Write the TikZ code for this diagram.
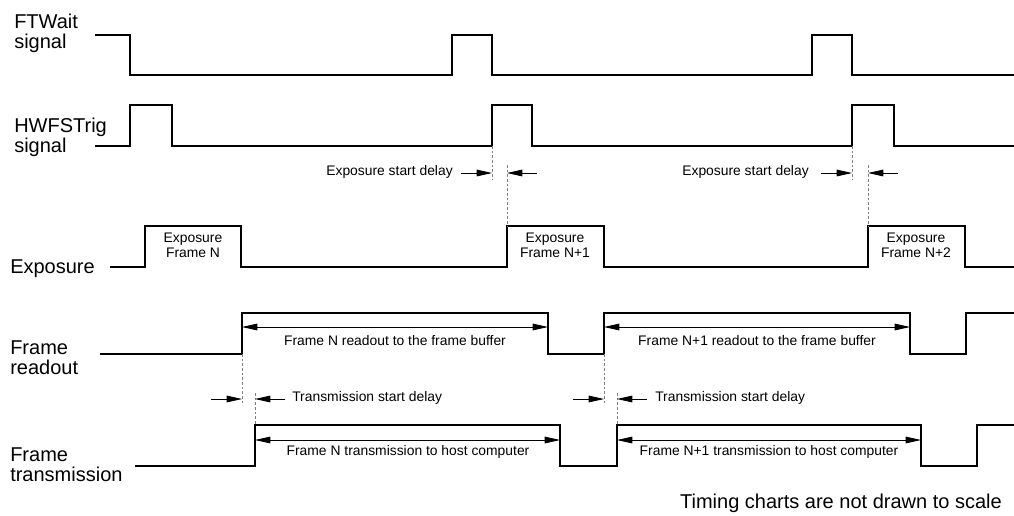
\documentclass[tikz,border=0pt]{standalone}
\usepackage{fontspec}
\setmainfont{Liberation Sans}
\usetikzlibrary{arrows.meta}
\tikzstyle{sigline}=[line width=1.5pt, line join=miter]
\tikzstyle{siglabel}=[anchor=north west, align=left, inner sep=0pt, font=\fontsize{15}{15}\selectfont]
\tikzstyle{smalltext}=[inner sep=0pt, align=center, font=\fontsize{10.4}{11.5}\selectfont]
\tikzstyle{guideline}=[gray, line width=0.6pt, dash pattern=on 2pt off 1.5pt]
\tikzstyle{delayarrow}=[line width=0.6pt, -{Triangle[length=11.5pt, width=5pt]}]
\tikzstyle{spanarrow}=[line width=0.6pt, {Triangle[length=11.5pt, width=5pt]}-{Triangle[length=11.5pt, width=5pt]}]

\begin{document}
\begin{tikzpicture}[x=0.75pt, y=-0.75pt]
  \useasboundingbox (0,0) rectangle (1014,515);
  % signal names
  \foreach \place/\name/\txt in {{(14,14)/ftwait/FTWait\\signal},
                                 {(14,118)/hwfs/HWFSTrig\\signal},
                                 {(10,259)/expo/Exposure},
                                 {(10,340)/rdout/Frame\\readout},
                                 {(10,447)/trans/Frame\\transmission}}
    \node[siglabel] (\name) at \place {\txt};
  % waveforms
  \draw[sigline] (95,35) -| (130,75) -| (452,35) -| (492,75) -| (812,35) -| (852,75) -- (1014,75);
  \draw[sigline] (95,146) -| (130,105) -| (172,146) -| (492,105) -| (532,146) -| (852,105) -| (894,146) -- (1014,146);
  \draw[sigline] (110,267) -| (145,226) -| (241,267) -| (507,226) -| (604,267) -| (868,226) -| (965,267) -- (1014,267);
  \draw[sigline] (100,354) -| (242,313) -| (548,354) -| (604,313) -| (910,354) -| (966,313) -- (1014,313);
  \draw[sigline] (135,466) -| (255,425) -| (560,466) -| (617,425) -| (921,466) -| (977,425) -- (1014,425);
  % exposure boxes
  \foreach \place/\name/\txt in {{(193,245)/exa/Exposure\\Frame N},
                                 {(555,245)/exb/Exposure\\Frame N+1},
                                 {(916,245)/exc/Exposure\\Frame N+2}}
    \node[smalltext] (\name) at \place {\txt};
  % delay guides
  \foreach \x/\a/\b in {492/146/180, 507/165/226, 852/146/180, 868/165/226,
                        242/354/405, 255/393/425, 604/354/405, 617/393/425}
    \draw[guideline] (\x,\a) -- (\x,\b);
  % delay markers
  \foreach \xa/\xb/\y/\n in {492/507/173/ea, 852/868/173/eb, 242/255/399/ta, 604/617/399/tb}
  {
    \coordinate (\n l) at (\xa,\y);
    \coordinate (\n r) at (\xb,\y);
    \draw[delayarrow] (\xa-31,\y) -- (\n l);
    \draw[delayarrow] (\xb+30,\y) -- (\n r);
  }
  \node[smalltext, anchor=east] (eda) at (453,172) {Exposure start delay};
  \node[smalltext, anchor=east] (edb) at (809,172) {Exposure start delay};
  \node[smalltext, anchor=west] (tda) at (292,398) {Transmission start delay};
  \node[smalltext, anchor=west] (tdb) at (655,398) {Transmission start delay};
  % readout and transmission spans
  \foreach \xa/\xb/\y/\n in {242/548/327/ra, 604/910/327/rb, 255/560/440/sa, 617/921/440/sb}
  {
    \coordinate (\n l) at (\xa,\y);
    \coordinate (\n r) at (\xb,\y);
    \draw[spanarrow] (\n l) -- (\n r);
  }
  \node[smalltext] (rta) at (395,341) {Frame N readout to the frame buffer};
  \node[smalltext] (rtb) at (757,341) {Frame N+1 readout to the frame buffer};
  \node[smalltext] (sta) at (408,452) {Frame N transmission to host computer};
  \node[smalltext] (stb) at (769,452) {Frame N+1 transmission to host computer};
  % footnote
  \node[anchor=base east, inner sep=0pt, font=\fontsize{15}{15}\selectfont] (scale) at (1002,508) {Timing charts are not drawn to scale};
\end{tikzpicture}
\end{document}
